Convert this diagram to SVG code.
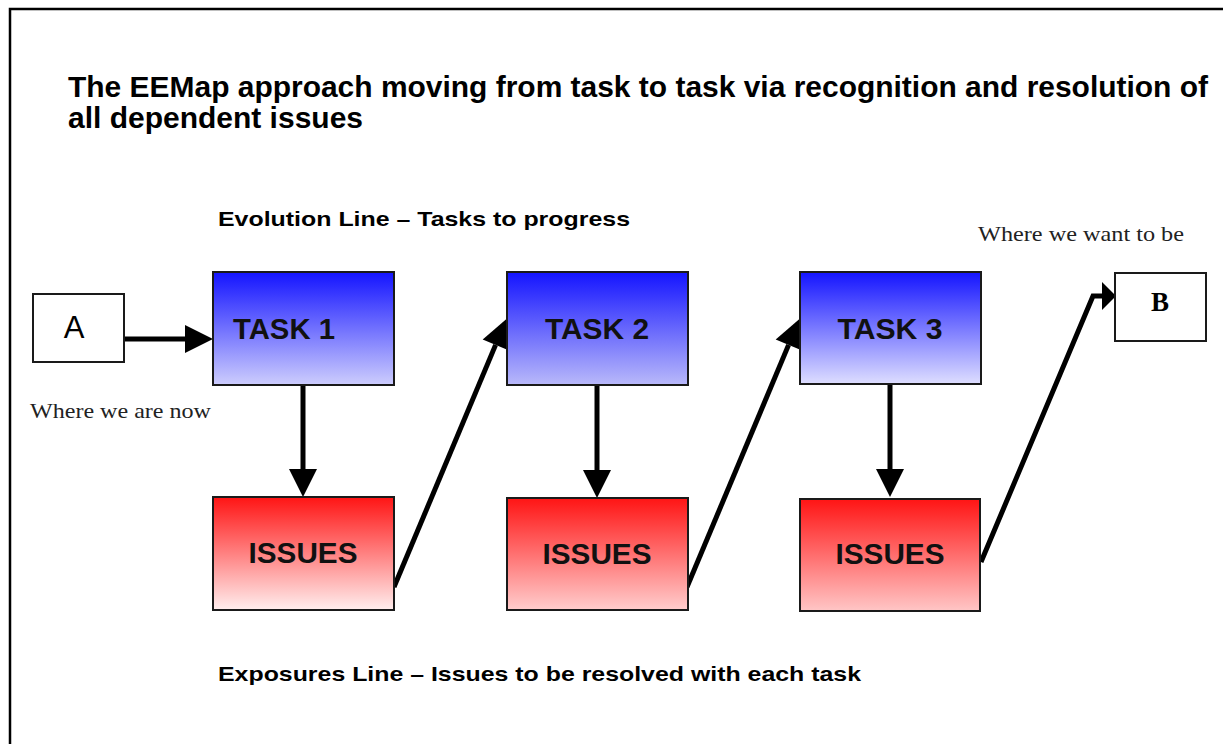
<svg xmlns="http://www.w3.org/2000/svg" width="1223" height="744" viewBox="0 0 1223 744">
<style>
.box{stroke:#1a1a1a;stroke-width:2}
.plain{fill:#fff;stroke:#1a1a1a;stroke-width:2}
.conn{fill:none;stroke:#000;stroke-width:5}
.h{font-family:"Liberation Sans",Arial,sans-serif;font-weight:bold;fill:#000}
.lbl{font-family:"Liberation Sans",Arial,sans-serif;font-weight:bold;font-size:29px;fill:#111}
.serif{font-family:"Liberation Serif","Times New Roman",serif;fill:#222}
</style>
<defs>
<linearGradient id="b1" x1="0" y1="0" x2="0" y2="1"><stop offset="0" stop-color="#1414ff"/><stop offset="1" stop-color="#cdcdfd"/></linearGradient>
<linearGradient id="b2" x1="0" y1="0" x2="0" y2="1"><stop offset="0" stop-color="#1414ff"/><stop offset="1" stop-color="#b9b9fa"/></linearGradient>
<linearGradient id="b3" x1="0" y1="0" x2="0" y2="1"><stop offset="0" stop-color="#1414ff"/><stop offset="1" stop-color="#dedeff"/></linearGradient>
<linearGradient id="r1" x1="0" y1="0" x2="0" y2="1"><stop offset="0" stop-color="#ff1414"/><stop offset="1" stop-color="#ffeeee"/></linearGradient>
<linearGradient id="r2" x1="0" y1="0" x2="0" y2="1"><stop offset="0" stop-color="#ff1414"/><stop offset="1" stop-color="#ffcdcd"/></linearGradient>
<linearGradient id="r3" x1="0" y1="0" x2="0" y2="1"><stop offset="0" stop-color="#ff1414"/><stop offset="1" stop-color="#ffc6c6"/></linearGradient>
<marker id="ah" markerUnits="userSpaceOnUse" markerWidth="30" markerHeight="30" refX="0" refY="14" orient="auto" overflow="visible"><path d="M0,0 L28,14 L0,28 Z" fill="#000"/></marker>
<marker id="ahs" markerUnits="userSpaceOnUse" markerWidth="30" markerHeight="30" refX="0" refY="14" orient="auto" overflow="visible"><path d="M0,0 L14,14 L0,28 Z" fill="#000"/></marker>
</defs>
<rect width="1223" height="744" fill="#fff"/>
<path d="M10,744 V9 H1223" fill="none" stroke="#000" stroke-width="2.5"/>

<g id="title">
<text class="h" x="68" y="97" font-size="29" textLength="1140" lengthAdjust="spacingAndGlyphs">The EEMap approach moving from task to task via recognition and resolution of</text>
<text class="h" x="68" y="128" font-size="29" textLength="295" lengthAdjust="spacingAndGlyphs">all dependent issues</text>
</g>
<g id="evolution-label"><text class="h" x="218" y="226" font-size="21" textLength="412" lengthAdjust="spacingAndGlyphs">Evolution Line – Tasks to progress</text></g>
<g id="exposures-label"><text class="h" x="218" y="681" font-size="21" textLength="643" lengthAdjust="spacingAndGlyphs">Exposures Line – Issues to be resolved with each task</text></g>
<g id="where-now"><text class="serif" x="30" y="418" font-size="21" textLength="181" lengthAdjust="spacingAndGlyphs">Where we are now</text></g>
<g id="where-want"><text class="serif" x="978" y="241" font-size="21" textLength="206" lengthAdjust="spacingAndGlyphs">Where we want to be</text></g>

<g id="connectors">
<path class="conn" d="M124,339 H185" marker-end="url(#ah)"/>
<path class="conn" d="M303,385 V469" marker-end="url(#ah)"/>
<path class="conn" d="M597,385 V470" marker-end="url(#ah)"/>
<path class="conn" d="M890,384 V469" marker-end="url(#ah)"/>
<path class="conn" d="M394,587 L495.6,344.9" marker-end="url(#ah)"/>
<path class="conn" d="M687,587 L788.6,344.9" marker-end="url(#ah)"/>
<path class="conn" d="M981,562 L1093,296 H1102" marker-end="url(#ahs)"/>
</g>

<g id="nodeA"><rect class="plain" x="33" y="294" width="91" height="68"/><text x="74" y="338" text-anchor="middle" font-family="'Liberation Sans',Arial,sans-serif" font-size="31" fill="#000">A</text></g>
<g id="task1"><rect class="box" x="213" y="272" width="181" height="113" fill="url(#b1)"/><text class="lbl" x="284" y="339" text-anchor="middle" textLength="102" lengthAdjust="spacingAndGlyphs">TASK 1</text></g>
<g id="task2"><rect class="box" x="507" y="272" width="181" height="113" fill="url(#b2)"/><text class="lbl" x="597" y="339" text-anchor="middle" textLength="104" lengthAdjust="spacingAndGlyphs">TASK 2</text></g>
<g id="task3"><rect class="box" x="800" y="272" width="181" height="112" fill="url(#b3)"/><text class="lbl" x="890" y="339" text-anchor="middle" textLength="105" lengthAdjust="spacingAndGlyphs">TASK 3</text></g>
<g id="issues1"><rect class="box" x="213" y="497" width="181" height="113" fill="url(#r1)"/><text class="lbl" x="303" y="563" text-anchor="middle" textLength="109" lengthAdjust="spacingAndGlyphs">ISSUES</text></g>
<g id="issues2"><rect class="box" x="507" y="498" width="181" height="112" fill="url(#r2)"/><text class="lbl" x="597" y="564" text-anchor="middle" textLength="109" lengthAdjust="spacingAndGlyphs">ISSUES</text></g>
<g id="issues3"><rect class="box" x="800" y="499" width="180" height="112" fill="url(#r3)"/><text class="lbl" x="890" y="564" text-anchor="middle" textLength="109" lengthAdjust="spacingAndGlyphs">ISSUES</text></g>
<g id="nodeB"><rect class="plain" x="1115" y="273" width="91" height="68"/><text x="1160" y="311" text-anchor="middle" font-family="'Liberation Serif','Times New Roman',serif" font-weight="bold" font-size="27" fill="#000">B</text></g>
</svg>
